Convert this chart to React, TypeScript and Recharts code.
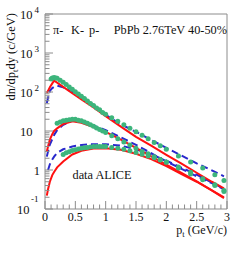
import React from 'react';
import { ComposedChart, Line, Scatter, XAxis, YAxis, ReferenceArea } from 'recharts';

// transverse momentum grid of the model curves (GeV/c)
const ptLine = [0.03, 0.05, 0.08, 0.12, 0.15, 0.2, 0.3, 0.45, 0.6, 0.8, 1.0, 1.25, 1.5, 1.75, 2.0, 2.25, 2.5, 2.75, 2.95];
// red solid model
const pionRed = [95, 107, 132, 166, 195, 174, 135, 93, 65, 40, 24, 12.9, 7.1, 4.2, 2.45, 1.45, 0.85, 0.5, 0.34];
const kaonRed = [3.0, 4.0, 6.0, 8.3, 10, 11.7, 15.1, 17.8, 16.2, 12.6, 9.5, 6.0, 3.7, 2.24, 1.38, 0.85, 0.51, 0.3, 0.2];
const protonRed = [0.22, 0.32, 0.5, 0.74, 0.89, 1.17, 1.66, 2.5, 3.1, 3.55, 3.6, 3.3, 2.6, 1.9, 1.26, 0.79, 0.5, 0.3, 0.19];
// blue dashed model
const pionBlue = [52, 71, 107, 126, 135, 145, 132, 100, 74, 45, 26, 14.8, 9.5, 5.9, 3.7, 2.35, 1.48, 0.98, 0.69];
const kaonBlue = [2.2, 3.0, 4.5, 6.2, 7.9, 10.5, 14.5, 18.2, 17.4, 13.8, 10.5, 6.9, 4.4, 2.7, 1.66, 1.07, 0.69, 0.46, 0.32];
const protonBlue = [null, 1.0, 1.4, 1.86, 2.2, 2.75, 3.4, 4.0, 4.4, 4.6, 4.6, 4.2, 3.4, 2.5, 1.74, 1.15, 0.76, 0.48, 0.33];

// ALICE data points (green)
const ptData = [0.1, 0.12, 0.15, 0.18, 0.2, 0.25, 0.3, 0.35, 0.4, 0.45, 0.5, 0.55, 0.6, 0.65, 0.7, 0.75, 0.8, 0.85, 0.9, 0.95, 1.0, 1.1, 1.2, 1.3, 1.4, 1.5, 1.6, 1.7, 1.8, 1.9, 2.0, 2.2, 2.4, 2.6, 2.8, 2.95];
const pionData = [214, 229, 234, 229, 224, 200, 178, 155, 135, 117, 102, 89, 78, 68, 59, 51, 45, 39, 35, 30, 27, 22, 17.8, 14.5, 11.7, 9.5, 7.8, 6.3, 5.1, 4.2, 3.4, 2.3, 1.6, 1.12, 0.76, 0.54];
const kaonData = [null, null, null, null, 15.8, 17, 18.2, 19, 19.5, 20, 20, 19, 18.2, 17, 15.8, 14.5, 13.2, 12, 11, 10, 9.1, 7.6, 6.3, 5.2, 4.4, 3.6, 3.0, 2.6, 2.2, 1.86, 1.58, 1.12, 0.79, 0.56, 0.4, 0.3];
const protonData = [null, null, null, null, null, null, 2.5, 2.75, 2.95, 3.15, 3.3, 3.45, 3.6, 3.7, 3.8, 3.9, 4.0, 4.0, 4.0, 4.0, 4.0, 3.8, 3.6, 3.4, 3.1, 2.8, 2.55, 2.3, 2.05, 1.8, 1.6, 1.2, 0.87, 0.6, 0.42, 0.28];

// axes
const xMajorTicks = [0, 0.5, 1, 1.5, 2, 2.5, 3];
const xTickLabels = ['0', '0.5', '1', '1.5', '2', '2.5', '3'];
const yMajorTicks = [0.1, 1, 10, 100, 1000, 10000];
const yTickBase = ['10', '1', '10', '10', '10', '10'];
const yTickExp = ['-1', '', '', '2', '3', '4'];

const xTicks: number[] = [];
for (let i = 0; i <= 30; i++) xTicks.push(i / 10);
const yTicks: number[] = [];
for (let e = -1; e <= 3; e++) for (let m = 1; m <= 9; m++) yTicks.push(Number((m * Math.pow(10, e)).toPrecision(6)));
yTicks.push(10000);

const RED = '#ff1010';
const BLUE = '#2828cc';
const GREEN = '#3db57c';
const AXIS = '#8c8c8c';
const FONT = '"Liberation Serif", "Times New Roman", serif';

const mkLine = (vals: (number | null)[]) =>
  ptLine.map((pt, i) => ({ pt, v: vals[i] })).filter((d) => d.v != null);
const mkData = (vals: (number | null)[]) =>
  ptData.map((pt, i) => ({ pt, v: vals[i] })).filter((d) => d.v != null);

const XTick = (props: any) => {
  const { x, y, payload } = props;
  const v = payload.value;
  const idx = xMajorTicks.findIndex((t) => Math.abs(t - v) < 1e-6);
  const major = idx >= 0;
  return (
    <g>
      <line x1={x} x2={x} y1={y} y2={y - (major ? 8 : 4.5)} stroke={AXIS} strokeWidth={1} />
      {major && (
        <text x={x} y={y + 12} textAnchor="middle" fontFamily={FONT} fontSize={12} fill="#111">
          {xTickLabels[idx]}
        </text>
      )}
    </g>
  );
};

const YTick = (props: any) => {
  const { x, y, payload } = props;
  const v = payload.value;
  const idx = yMajorTicks.findIndex((t) => Math.abs(Math.log10(t) - Math.log10(v)) < 1e-6);
  const major = idx >= 0;
  let label = null;
  if (major) {
    const base = yTickBase[idx];
    const exp = yTickExp[idx];
    if (exp === '') {
      label = (
        <text x={base === '1' ? x - 5 : x - 12.5} y={y + 4.5} textAnchor="end" fontFamily={FONT} fontSize={12.5} fill="#111">
          {base}
        </text>
      );
    } else if (exp === '-1') {
      label = (
        <g>
          <text x={x - 15.5} y={y + 4.5} textAnchor="end" fontFamily={FONT} fontSize={12.5} fill="#111">{base}</text>
          <text x={x - 14} y={y - 7} textAnchor="start" fontFamily={FONT} fontSize={9} fill="#111">{exp}</text>
        </g>
      );
    } else {
      label = (
        <g>
          <text x={x - 12.5} y={y + 5} textAnchor="end" fontFamily={FONT} fontSize={12.5} fill="#111">{base}</text>
          <text x={x - 10.5} y={y - 1} textAnchor="start" fontFamily={FONT} fontSize={9} fill="#111">{exp}</text>
        </g>
      );
    }
  }
  return (
    <g>
      <line x1={x} x2={x + (major ? 8 : 4.5)} y1={y} y2={y} stroke={AXIS} strokeWidth={1} />
      {label}
    </g>
  );
};

const Dot = (props: any) => {
  const { cx, cy } = props;
  if (cx == null || cy == null) return <g />;
  return <circle cx={cx} cy={cy} r={2.5} fill={GREEN} />;
};

export default function App() {
  return (
    <div style={{ position: 'absolute', left: 0, top: 0, width: 244, height: 258, background: '#fff' }}>
      <ComposedChart width={244} height={258} margin={{ top: 14, right: 17, bottom: 0, left: 0 }}>
        <XAxis
          type="number"
          dataKey="pt"
          domain={[0, 3]}
          ticks={xTicks}
          interval={0}
          tickSize={0}
          tickMargin={0}
          axisLine={false}
          tick={(p: any) => <XTick {...p} />}
          height={49}
          allowDataOverflow
        />
        <YAxis
          type="number"
          scale="log"
          domain={[0.1, 10000]}
          ticks={yTicks}
          interval={0}
          tickSize={0}
          tickMargin={0}
          axisLine={false}
          tick={(p: any) => <YTick {...p} />}
          width={45}
          allowDataOverflow
        />
        <ReferenceArea x1={0} x2={3} y1={0.1} y2={10000} fill="none" stroke={AXIS} strokeWidth={1} ifOverflow="visible" />
        <Scatter data={mkData(pionData)} dataKey="v" shape={<Dot />} isAnimationActive={false} />
        <Scatter data={mkData(kaonData)} dataKey="v" shape={<Dot />} isAnimationActive={false} />
        <Scatter data={mkData(protonData)} dataKey="v" shape={<Dot />} isAnimationActive={false} />
        <Line data={mkLine(pionBlue)} dataKey="v" stroke={BLUE} strokeWidth={2} strokeDasharray="7 4" dot={false} isAnimationActive={false} />
        <Line data={mkLine(kaonBlue)} dataKey="v" stroke={BLUE} strokeWidth={2} strokeDasharray="7 4" dot={false} isAnimationActive={false} />
        <Line data={mkLine(protonBlue)} dataKey="v" stroke={BLUE} strokeWidth={2} strokeDasharray="7 4" dot={false} isAnimationActive={false} />
        <Line data={mkLine(pionRed)} dataKey="v" stroke={RED} strokeWidth={2} dot={false} isAnimationActive={false} />
        <Line data={mkLine(kaonRed)} dataKey="v" stroke={RED} strokeWidth={2} dot={false} isAnimationActive={false} />
        <Line data={mkLine(protonRed)} dataKey="v" stroke={RED} strokeWidth={2} dot={false} isAnimationActive={false} />
      </ComposedChart>
      <svg width={244} height={258} style={{ position: 'absolute', left: 0, top: 0, pointerEvents: 'none' }}>
        <g fontFamily={FONT} fill="#111">
          <text x={53} y={34} fontSize={12.3}>π-</text>
          <text x={71} y={34} fontSize={12.3}>K-</text>
          <text x={89} y={34} fontSize={12.3}>p-</text>
          <text x={227} y={34} fontSize={12.3} textAnchor="end">PbPb 2.76TeV 40-50%</text>
          <text x={72.5} y={179} fontSize={12.3}>data ALICE</text>
          <text x={227} y={233.5} fontSize={12} textAnchor="end">
            p<tspan fontSize={8.5} dy={3}>t</tspan><tspan dy={-3}> (GeV/c)</tspan>
          </text>
          <text transform="translate(15,13) rotate(-90)" fontSize={12.5} textAnchor="end">
            dn/dp<tspan fontSize={9} dy={3}>t</tspan><tspan dy={-3}>dy (c/GeV)</tspan>
          </text>
        </g>
      </svg>
    </div>
  );
}
